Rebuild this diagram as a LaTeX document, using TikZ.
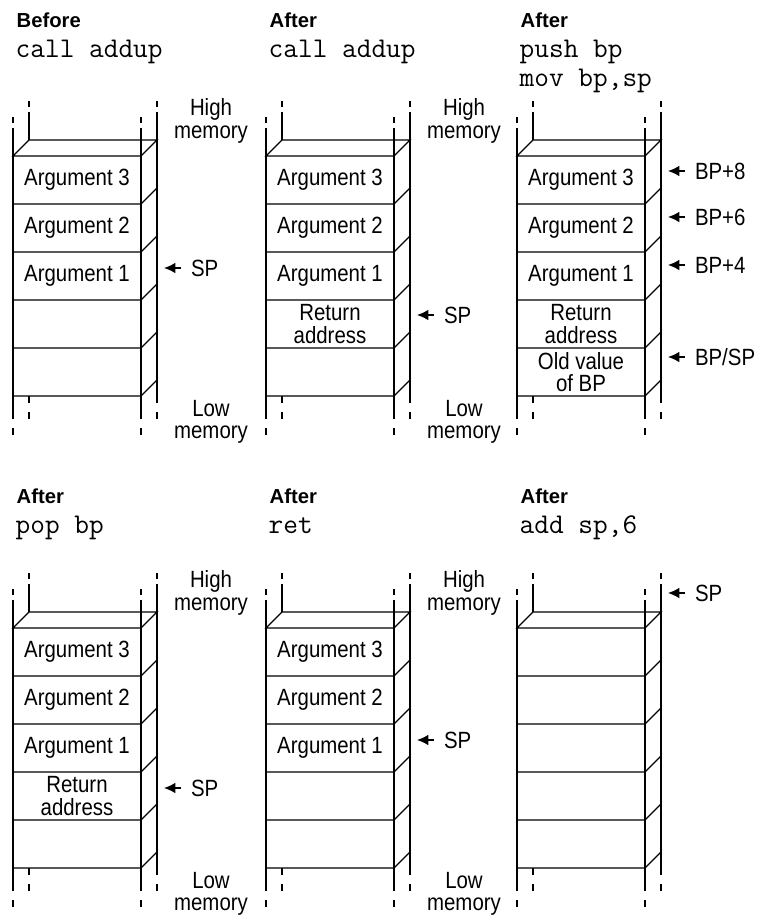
\documentclass[tikz,border=0pt]{standalone}
\usepackage{fontspec}
\setmainfont{Liberation Sans}[FakeStretch=0.87]
\newfontfamily\headfont{Liberation Sans}
\usetikzlibrary{arrows.meta}

\begin{document}
\begin{tikzpicture}[x=0.75pt, y=-0.75pt, line width=1pt,
    txt/.style={font=\fontsize{17.6}{17}\selectfont, align=center, inner sep=0pt},
    head/.style={anchor=base west, inner sep=0pt, font=\headfont\bfseries\fontsize{15.2}{16}\selectfont},
    code/.style={anchor=base west, inner sep=0pt, font=\ttfamily\fontsize{21.4}{22}\selectfont},
    reg/.style={txt, anchor=west, inner xsep=7pt, inner ysep=0pt},
    ptr/.style={-{Latex[length=8.5pt, width=8pt]}}]
  \useasboundingbox (0,0) rectangle (760,921);
  % stacks: front face 128 wide, five slots of 48, depth 16
  \foreach \p/\X/\Y in {1/13/156, 2/266/156, 3/517/156, 4/13/628, 5/266/628, 6/517/628} {
    \coordinate (p\p) at (\X,\Y);
    \foreach \x in {\X+16, \X+144}
      \draw (\x,\Y-55) -- (\x,\Y-49) (\x,\Y-44) -- (\x,\Y+247) (\x,\Y+256) -- (\x,\Y+263);
    \fill[white] (\X,\Y+240) -- (\X,\Y) -- (\X+16,\Y-16) -- (\X+144,\Y-16) -- (\X+128,\Y) -- (\X+128,\Y+240) -- cycle;
    \foreach \x in {\X, \X+128}
      \draw (\x,\Y-39) -- (\x,\Y-33) (\x,\Y-28) -- (\x,\Y+263) (\x,\Y+272) -- (\x,\Y+279);
    \draw (\X,\Y) -- (\X+16,\Y-16) -- (\X+144,\Y-16) -- (\X+128,\Y) -- cycle;
    \foreach \k in {1,...,5}
      \draw (\X,\Y+48*\k) -- (\X+128,\Y+48*\k) -- (\X+144,\Y+48*\k-16);
  }
  % titles and instructions
  \foreach \p/\x/\y/\hd/\cmd in {1/16/27/Before/{call addup}, 2/269/27/After/{call addup},
      3/520/27/After/{push bp}, 4/16/503/After/{pop bp}, 5/269/503/After/ret, 6/520/503/After/{add sp,6}} {
    \node[head] (h\p) at (\x,\y) {\hd};
    \node[code] (m\p) at (\x-1,\y+30) {\cmd};
  }
  \node[code] (m3b) at (519,86) {mov bp,sp};
  % slot contents
  \foreach \p in {1,...,5}
    \foreach \k/\n in {1/3, 2/2, 3/1}
      \node[txt] (c\p-\k) at ([shift={(64,48*\k-24)}]p\p) {Argument \n};
  \foreach \p in {2,3,4}
    \node[txt] (c\p-4) at ([shift={(64,168)}]p\p) {Return\\address};
  \node[txt] (c3-5) at ([shift={(64,216)}]p3) {Old value\\of BP};
  % memory ends
  \foreach \p in {1,2,4,5} {
    \node[txt] (hi\p) at ([shift={(198,-35)}]p\p) {High\\memory};
    \node[txt] (lo\p) at ([shift={(198,266)}]p\p) {Low\\memory};
  }
  % register pointers
  \foreach \p/\dy/\lab [count=\i] in {1/112/SP, 2/159/SP, 3/15/BP+8, 3/61/BP+6, 3/109/BP+4,
      3/201/{BP/SP}, 4/160/SP, 5/112/SP, 6/-35/SP} {
    \coordinate (t\i) at ([shift={(151,\dy)}]p\p);
    \node[reg] (r\i) at ([shift={(168,\dy)}]p\p) {\lab};
    \draw[ptr] (r\i.west) -- (t\i);
  }
\end{tikzpicture}
\end{document}
